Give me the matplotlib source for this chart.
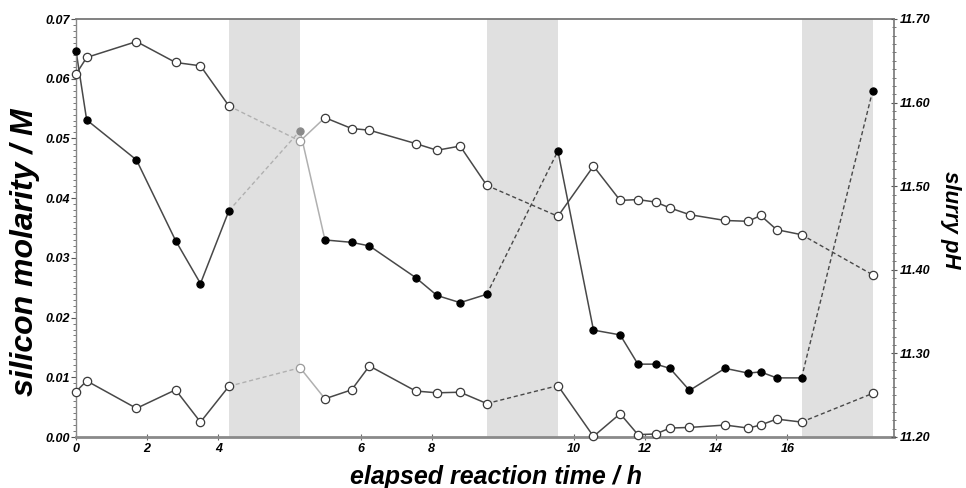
import numpy as np
import matplotlib
matplotlib.use("Agg")
from matplotlib import pyplot as plt
from matplotlib.ticker import MultipleLocator, FormatStrFormatter

# sampling times in hours; segment = which run the sample belongs to
# (the reaction was paused between runs, shown as grey bands)
elapsed_h = [0.0, 0.3, 1.7, 2.8, 3.5, 4.3,
             4.3, 5.0, 5.75, 6.25, 7.55, 8.15, 8.8, 9.55,
             9.55, 10.55, 11.3, 11.8, 12.3, 12.7, 13.25, 14.25, 14.9, 15.25, 15.7, 16.4,
             16.4]
segment = [0] * 6 + [1] * 8 + [2] * 12 + [3]
pause_at_h = [4.3, 9.55, 16.4]

si_molarity = [0.0647, 0.0531, 0.0464, 0.0329, 0.0257, 0.0379,
               0.0513, 0.0330, 0.0326, 0.0320, 0.0267, 0.0237, 0.0225, 0.0239,
               0.0479, 0.0179, 0.0171, 0.0122, 0.0122, 0.0115, 0.0078, 0.0115, 0.0107, 0.0109, 0.0099, 0.0099,
               0.0580]
si_molarity_low = [0.0076, 0.0094, 0.0048, 0.0079, 0.0025, 0.0085,
                   0.0116, 0.0064, 0.0079, 0.0119, 0.0077, 0.0074, 0.0075, 0.0056,
                   0.0086, 0.0001, 0.0039, 0.0004, 0.0005, 0.0015, 0.0016, 0.0020, 0.0015, 0.0020, 0.0030, 0.0025,
                   0.0073]
slurry_ph = [11.634, 11.654, 11.673, 11.648, 11.644, 11.596,
             11.554, 11.582, 11.569, 11.567, 11.551, 11.543, 11.548, 11.501,
             11.464, 11.524, 11.483, 11.484, 11.481, 11.474, 11.466, 11.459, 11.458, 11.465, 11.448, 11.442,
             11.394]

x_ticks_h = [0, 2, 4, 6, 8, 10, 12, 14, 16]
x_ticks_segment = [0, 0, 0, 1, 1, 2, 2, 2, 2]

PAUSE_WIDTH = 2.0
DARK = '#484848'
LIGHT = '#b0b0b0'
BAND = '#e0e0e0'
DASH = (0, (3, 2))

plt.rcParams['font.family'] = ['Liberation Sans', 'DejaVu Sans']
plt.rcParams['font.weight'] = 'bold'
plt.rcParams['font.style'] = 'italic'


def axis_pos(t, seg):
    return np.asarray(t, dtype=float) + PAUSE_WIDTH * np.asarray(seg)


def draw_series(ax, values, filled):
    x = axis_pos(elapsed_h, segment)
    y = np.asarray(values)
    seg = np.asarray(segment)

    for k in range(seg.max() + 1):
        idx = np.where(seg == k)[0]
        if k == 1:
            # first step after the first pause is drawn faded
            ax.plot(x[idx[:2]], y[idx[:2]], color=LIGHT, lw=1.1, zorder=2)
            ax.plot(x[idx[1:]], y[idx[1:]], color=DARK, lw=1.1, zorder=2)
        else:
            ax.plot(x[idx], y[idx], color=DARK, lw=1.1, zorder=2)

    # dashed links across the pauses
    for k in range(seg.max()):
        i = np.where(seg == k)[0][-1]
        j = np.where(seg == k + 1)[0][0]
        ax.plot([x[i], x[j]], [y[i], y[j]], color=LIGHT if k == 0 else DARK,
                lw=1.0, ls=DASH, zorder=2)

    if filled:
        style = dict(marker='o', ms=5.2, mfc='black', mec='black', mew=0.8)
        first_style = dict(marker='o', ms=5.2, mfc='#8a8a8a', mec='#8a8a8a', mew=0.8)
    else:
        style = dict(marker='o', ms=6.0, mfc='white', mec='#3a3a3a', mew=0.9)
        first_style = dict(marker='o', ms=6.0, mfc='white', mec='#9a9a9a', mew=0.9)

    after = np.where(seg == 1)[0][0]
    keep = np.arange(len(x)) != after
    ax.plot(x[keep], y[keep], ls='none', zorder=4, clip_on=False, **style)
    ax.plot(x[after], y[after], ls='none', zorder=4, clip_on=False, **first_style)


fig = plt.figure(figsize=(9.66, 4.88), dpi=100)
ax = fig.add_axes([76 / 966, 51 / 488, 818 / 966, 418 / 488])
ax2 = ax.twinx()

for k, t in enumerate(pause_at_h):
    ax.axvspan(t + PAUSE_WIDTH * k, t + PAUSE_WIDTH * (k + 1), color=BAND, lw=0, zorder=0)

draw_series(ax, si_molarity, filled=True)
draw_series(ax, si_molarity_low, filled=False)
draw_series(ax2, slurry_ph, filled=False)

ax.set_xlim(0, 23)
ax.set_ylim(0, 0.07)
ax2.set_ylim(11.2, 11.7)

ax.set_xticks(axis_pos(x_ticks_h, x_ticks_segment))
ax.set_xticklabels([str(v) for v in x_ticks_h])
ax.yaxis.set_major_locator(MultipleLocator(0.01))
ax.yaxis.set_minor_locator(MultipleLocator(0.001))
ax.yaxis.set_major_formatter(FormatStrFormatter('%.2f'))
ax2.yaxis.set_major_locator(MultipleLocator(0.1))
ax2.yaxis.set_minor_locator(MultipleLocator(0.01))
ax2.yaxis.set_major_formatter(FormatStrFormatter('%.2f'))

ax.tick_params(axis='x', direction='inout', length=5, width=0.8, color='#666',
               labelsize=9, pad=1.5)
ax.tick_params(axis='y', which='major', direction='out', length=3.5, width=0.8,
               color='#555', labelsize=9, pad=1)
ax.tick_params(axis='y', which='minor', direction='out', length=2, width=0.7, color='#777')
ax2.tick_params(axis='y', which='major', direction='inout', length=4, width=0.8,
                color='#555', labelsize=9, pad=2)
ax2.tick_params(axis='y', which='minor', direction='inout', length=2.5, width=0.7, color='#777')

for name in ('top', 'bottom', 'left', 'right'):
    ax2.spines[name].set_visible(name == 'right')
ax.spines['right'].set_visible(False)
ax.spines['top'].set_color('#777')
ax.spines['top'].set_linewidth(1.3)
ax.spines['bottom'].set_color('#8a8a8a')
ax.spines['bottom'].set_linewidth(2.0)
ax.spines['left'].set_color('#888')
ax.spines['left'].set_linewidth(1.0)
ax2.spines['right'].set_color('#777')
ax2.spines['right'].set_linewidth(1.2)

fig.text(25 / 966, 1 - 252 / 488, 'silicon molarity / M', rotation=90,
         ha='center', va='center', fontsize=23)
fig.text(951 / 966, 1 - 220 / 488, 'slurry pH', rotation=-90,
         ha='center', va='center', fontsize=16)
fig.text(496 / 966, 1 - 484 / 488, 'elapsed reaction time / h',
         ha='center', va='baseline', fontsize=18)

fig.savefig('out.png', dpi=100)
